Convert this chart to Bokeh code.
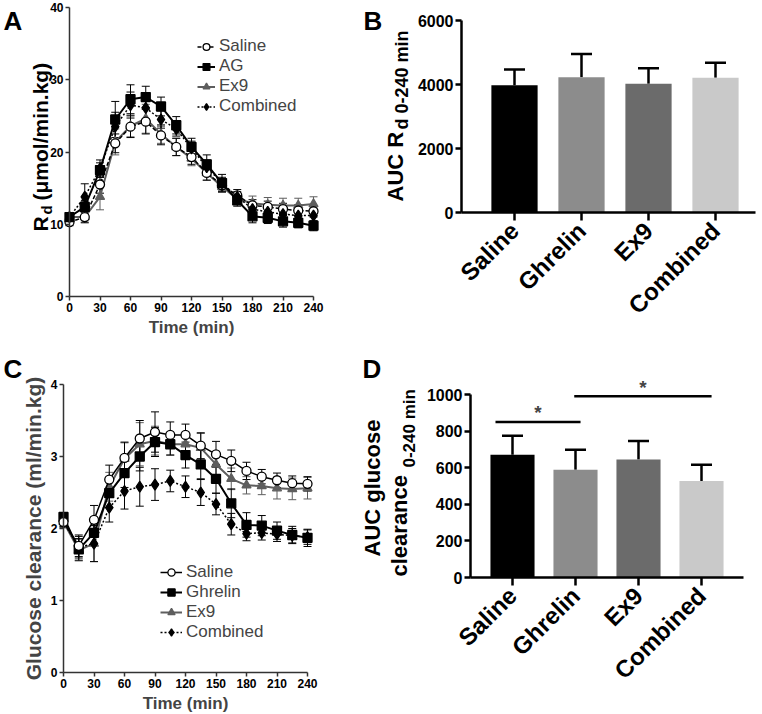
import numpy as np
from math import pi
from bokeh.plotting import figure
from bokeh.models import (ColumnDataSource, Whisker, TeeHead, Label, Legend,
                          LegendItem, FixedTicker, Range1d)
from bokeh.layouts import row, column
from bokeh.embed import file_html
from bokeh.resources import INLINE

# ---------------- data ----------------
time_min = [0, 15, 30, 45, 60, 75, 90, 105, 120, 135, 150, 165, 180, 195, 210, 225, 240]

# Panel A: Rd (umol/min.kg)
rd_saline = [10.3, 11.0, 15.5, 21.2, 23.5, 24.2, 22.3, 20.7, 19.3, 17.1, 15.4, 14.0, 12.6, 12.4, 12.1, 11.9, 11.8]
rd_saline_err = [0.5, 0.8, 1.2, 1.3, 1.5, 1.7, 1.3, 1.2, 1.0, 1.0, 0.8, 0.8, 0.8, 0.8, 0.8, 0.8, 0.8]
rd_ag = [11.0, 12.4, 17.5, 24.5, 27.3, 27.6, 26.3, 23.7, 20.7, 18.3, 15.7, 13.3, 11.1, 10.9, 10.4, 10.2, 9.8]
rd_ag_err = [0.5, 0.8, 1.0, 2.5, 2.0, 1.5, 1.3, 1.2, 1.2, 1.3, 1.2, 0.8, 0.9, 0.8, 0.8, 0.7, 0.7]
rd_ex9 = [11.0, 11.0, 13.8, 21.4, 23.6, 24.6, 22.5, 20.7, 19.1, 17.1, 15.2, 13.5, 12.9, 12.7, 12.6, 12.6, 12.8]
rd_ex9_err = [0.5, 0.7, 1.8, 1.8, 1.5, 2.0, 1.3, 1.2, 1.0, 1.0, 0.8, 0.8, 1.0, 1.0, 1.0, 1.0, 1.0]
rd_comb = [11.0, 13.8, 17.7, 23.5, 26.5, 26.1, 24.5, 23.2, 20.5, 17.9, 15.7, 13.8, 12.1, 11.7, 11.4, 11.2, 11.2]
rd_comb_err = [0.6, 1.8, 1.2, 2.0, 1.8, 1.5, 1.2, 1.0, 1.0, 1.0, 0.8, 0.7, 0.8, 0.8, 0.8, 0.8, 0.8]

# Panel C: glucose clearance (ml/min.kg)
gc_saline = [2.09, 1.76, 2.12, 2.68, 2.98, 3.25, 3.34, 3.30, 3.30, 3.15, 3.03, 2.94, 2.80, 2.72, 2.67, 2.63, 2.62]
gc_saline_err = [0.08, 0.15, 0.20, 0.20, 0.22, 0.25, 0.28, 0.18, 0.15, 0.18, 0.18, 0.15, 0.12, 0.10, 0.10, 0.10, 0.10]
gc_ghrelin = [2.16, 1.71, 1.94, 2.49, 2.77, 3.00, 3.20, 3.17, 3.02, 2.89, 2.69, 2.35, 2.05, 2.04, 1.97, 1.91, 1.87]
gc_ghrelin_err = [0.06, 0.15, 0.15, 0.20, 0.20, 0.20, 0.20, 0.15, 0.18, 0.20, 0.20, 0.20, 0.17, 0.14, 0.12, 0.12, 0.12]
gc_ex9 = [2.09, 1.70, 1.79, 2.58, 2.97, 3.17, 3.22, 3.17, 3.17, 3.12, 2.89, 2.69, 2.60, 2.59, 2.56, 2.55, 2.56]
gc_ex9_err = [0.06, 0.15, 0.25, 0.20, 0.22, 0.30, 0.20, 0.15, 0.13, 0.20, 0.18, 0.15, 0.12, 0.12, 0.15, 0.15, 0.15]
gc_comb = [2.09, 1.74, 1.79, 2.29, 2.52, 2.58, 2.61, 2.66, 2.58, 2.50, 2.34, 2.06, 1.93, 1.94, 1.92, 1.90, 1.88]
gc_comb_err = [0.06, 0.15, 0.25, 0.20, 0.25, 0.27, 0.22, 0.15, 0.15, 0.18, 0.15, 0.15, 0.10, 0.10, 0.10, 0.10, 0.10]

# Panels B and D: AUC bars
groups = ["Saline", "Ghrelin", "Ex9", "Combined"]
bar_colors = ["#000000", "#8c8c8c", "#6b6b6b", "#c9c9c9"]
auc_rd = [3980, 4230, 4020, 4210]
auc_rd_err = [490, 720, 490, 470]
auc_gc = [671, 589, 645, 527]
auc_gc_err = [104, 109, 101, 89]
sig_pairs = [(0, 1), (1, 3)]
sig_level = [850, 990]
sig_pad = [(-0.27, 0.08), (-0.02, 0.16)]

FONT = "Liberation Sans"


# ---------------- geometry helpers ----------------
class Geo:
    """Whole figure is the frame; map page pixels of the data box to data values."""
    def __init__(self, X0, Y0, W, H, L, T, R, B, dx0, dx1, dy0, dy1):
        self.X0, self.Y0, self.W, self.H = X0, Y0, W, H
        self.L, self.B = L, B
        self.dx0, self.dy0 = dx0, dy0
        self.kx = (dx1 - dx0) / (R - L)
        self.ky = (dy1 - dy0) / (B - T)
        self.xr = (dx0 - (L - X0) * self.kx, dx1 + (X0 + W - R) * self.kx)
        self.yr = (dy0 - (Y0 + H - B) * self.ky, dy1 + (T - Y0) * self.ky)

    def x(self, X):
        return self.dx0 + (X - self.L) * self.kx

    def y(self, Y):
        return self.dy0 + (self.B - Y) * self.ky


def make_fig(g):
    p = figure(width=g.W, height=g.H, x_range=Range1d(*g.xr), y_range=Range1d(*g.yr),
               output_backend="svg", toolbar_location=None, min_border=0)
    p.outline_line_color = None
    p.grid.visible = False
    p.xaxis.fixed_location = 0
    return p


def add_text(p, g, X, Y, text, size, angle=0.0, align="left", baseline="middle",
             style="bold", color="black"):
    p.add_layout(Label(x=g.x(X), y=g.y(Y), text=text, angle=angle, text_align=align,
                       text_baseline=baseline, text_font=FONT,
                       text_font_size=f"{size}px", text_font_style=style,
                       text_color=color))


def style_line_axes(p, yticks):
    for ax in (p.xaxis, p.yaxis):
        ax.axis_line_width = 1.5
        ax.axis_line_color = "#333333"
        ax.major_tick_line_color = "#333333"
        ax.major_tick_line_width = 1.5
        ax.major_tick_out = 4
        ax.major_tick_in = 0
        ax.minor_tick_line_color = None
        ax.major_label_text_font = FONT
        ax.major_label_text_font_style = "bold"
        ax.major_label_text_font_size = "12px"
        ax.major_label_text_color = "black"
        ax.major_label_standoff = 2
    p.yaxis.fixed_location = 0
    p.xaxis.ticker = FixedTicker(ticks=list(range(0, 241, 30)))
    p.xaxis.bounds = (0, 240)
    p.yaxis.ticker = FixedTicker(ticks=yticks)
    p.yaxis.bounds = (yticks[0], yticks[-1])
    p.xaxis.axis_label = "Time (min)"
    p.xaxis.axis_label_text_font = FONT
    p.xaxis.axis_label_text_font_size = "17px"
    p.xaxis.axis_label_text_font_style = "bold"
    p.xaxis.axis_label_standoff = 3


def style_bar_axes(p, g, yticks, axis_left, axis_right):
    for ax in (p.xaxis, p.yaxis):
        ax.axis_line_width = 2.5
        ax.axis_line_color = "black"
        ax.major_tick_line_color = "black"
        ax.major_tick_line_width = 2.5
        ax.major_tick_in = 0
        ax.minor_tick_line_color = None
        ax.major_label_text_font = FONT
        ax.major_label_text_font_style = "bold"
        ax.major_label_text_color = "black"
    p.yaxis.fixed_location = g.x(axis_left)
    p.yaxis.major_tick_out = 6
    p.yaxis.major_label_text_font_size = "16px"
    p.yaxis.major_label_standoff = 2
    p.yaxis.ticker = FixedTicker(ticks=yticks)
    p.yaxis.bounds = (yticks[0], yticks[-1])
    p.xaxis.bounds = (g.x(axis_left), g.x(axis_right))
    p.xaxis.major_tick_out = 8
    p.xaxis.ticker = FixedTicker(ticks=list(range(len(groups))))
    p.xaxis.major_label_overrides = {i: n for i, n in enumerate(groups)}
    p.xaxis.major_label_orientation = pi / 4
    p.xaxis.major_label_text_font_size = "24px"
    p.xaxis.major_label_standoff = 6


def add_series(p, x, y, err, color, marker, size, dash, fill, lw):
    src = ColumnDataSource(dict(x=x, y=y, lo=[a - b for a, b in zip(y, err)],
                                hi=[a + b for a, b in zip(y, err)]))
    p.add_layout(Whisker(source=src, base="x", lower="lo", upper="hi",
                         line_color=color, line_width=1,
                         lower_head=TeeHead(size=8, line_color=color, line_width=1),
                         upper_head=TeeHead(size=8, line_color=color, line_width=1)))
    lr = p.line("x", "y", source=src, line_color=color, line_width=lw, line_dash=dash)
    sr = p.scatter("x", "y", source=src, marker=marker, size=size,
                   fill_color=fill, line_color=color, line_width=1.3)
    return [lr, sr]


def add_legend(p, items, loc, item_h, glyph_w, font_px):
    lg = Legend(items=[LegendItem(label=l, renderers=r) for l, r in items],
                location=loc, border_line_color=None, background_fill_alpha=0,
                padding=0, spacing=0, margin=0, glyph_width=glyph_w,
                glyph_height=item_h, label_height=item_h, label_standoff=4,
                label_text_font=FONT, label_text_font_size=f"{font_px}px")
    p.add_layout(lg)


# ---------------- Panel A ----------------
gA = Geo(0, 0, 360, 352, 69, 7, 313, 296, 0, 240, 0, 40)
pA = make_fig(gA)
style_line_axes(pA, [0, 10, 20, 30, 40])
rA_ex9 = add_series(pA, time_min, rd_ex9, rd_ex9_err, "#5e5e5e", "triangle", 9, "solid", "#5e5e5e", 2)
rA_sal = add_series(pA, time_min, rd_saline, rd_saline_err, "black", "circle", 9, "4 2", "white", 1.5)
rA_comb = add_series(pA, time_min, rd_comb, rd_comb_err, "black", "diamond", 11, "2 2", "black", 1.5)
rA_ag = add_series(pA, time_min, rd_ag, rd_ag_err, "black", "square", 9, "solid", "black", 2)
add_legend(pA, [("Saline", rA_sal), ("AG", rA_ag), ("Ex9", rA_ex9), ("Combined", rA_comb)],
           (197, 236), 17, 18, 17)
add_text(pA, gA, 40, 231, "R", 21, angle=pi / 2)
add_text(pA, gA, 46, 214, "d", 15, angle=pi / 2)
add_text(pA, gA, 40, 200, "(μmol/min.kg)", 21, angle=pi / 2)
add_text(pA, gA, 3, 5, "A", 26, baseline="top")

# ---------------- Panel B ----------------
gB = Geo(360, 0, 400, 352, 514, 20, 581, 212, 0, 1, 0, 6000)
pB = make_fig(gB)
style_bar_axes(pB, gB, [0, 2000, 4000, 6000], 461, 755)
srcB = ColumnDataSource(dict(x=list(range(len(groups))), top=auc_rd, color=bar_colors,
                             hi=[a + b for a, b in zip(auc_rd, auc_rd_err)]))
pB.add_layout(Whisker(source=srcB, base="x", lower="top", upper="hi", line_color="black",
                      line_width=2.5, lower_head=None,
                      upper_head=TeeHead(size=21, line_color="black", line_width=2.5)))
pB.vbar(x="x", top="top", width=0.69, source=srcB, fill_color="color", line_color=None)
add_text(pB, gB, 395, 201, "AUC R", 22, angle=pi / 2)
add_text(pB, gB, 401, 129, "d", 18, angle=pi / 2)
add_text(pB, gB, 401, 113, "0-240 min", 18, angle=pi / 2)
add_text(pB, gB, 363, 5, "B", 26, baseline="top")

# ---------------- Panel C ----------------
gC = Geo(0, 352, 360, 360, 63, 384, 307, 672, 0, 240, 0, 4)
pC = make_fig(gC)
style_line_axes(pC, [0, 1, 2, 3, 4])
pC.yaxis.axis_label = "Glucose clearance (ml/min.kg)"
pC.yaxis.axis_label_text_font = FONT
pC.yaxis.axis_label_text_font_size = "21px"
pC.yaxis.axis_label_text_font_style = "bold"
pC.yaxis.axis_label_standoff = 3
rC_ex9 = add_series(pC, time_min, gc_ex9, gc_ex9_err, "#5e5e5e", "triangle", 9, "solid", "#5e5e5e", 2)
rC_comb = add_series(pC, time_min, gc_comb, gc_comb_err, "black", "diamond", 11, "2 2", "black", 1.5)
rC_gh = add_series(pC, time_min, gc_ghrelin, gc_ghrelin_err, "black", "square", 9, "solid", "black", 2)
rC_sal = add_series(pC, time_min, gc_saline, gc_saline_err, "black", "circle", 9, "solid", "white", 1.5)
add_legend(pC, [("Saline", rC_sal), ("Ghrelin", rC_gh), ("Ex9", rC_ex9), ("Combined", rC_comb)],
           (160, 70), 18, 22, 17)
add_text(pC, gC, 3, 353, "C", 26, baseline="top")

# ---------------- Panel D ----------------
gD = Geo(360, 352, 400, 360, 512, 394, 575, 577, 0, 1, 0, 1000)
pD = make_fig(gD)
style_bar_axes(pD, gD, [0, 200, 400, 600, 800, 1000], 470, 743)
srcD = ColumnDataSource(dict(x=list(range(len(groups))), top=auc_gc, color=bar_colors,
                             hi=[a + b for a, b in zip(auc_gc, auc_gc_err)]))
pD.add_layout(Whisker(source=srcD, base="x", lower="top", upper="hi", line_color="black",
                      line_width=2.5, lower_head=None,
                      upper_head=TeeHead(size=21, line_color="black", line_width=2.5)))
pD.vbar(x="x", top="top", width=0.70, source=srcD, fill_color="color", line_color=None)
sx0 = [i + pad[0] for (i, j), pad in zip(sig_pairs, sig_pad)]
sx1 = [j + pad[1] for (i, j), pad in zip(sig_pairs, sig_pad)]
pD.segment(x0=sx0, y0=sig_level, x1=sx1, y1=sig_level, line_color="black", line_width=2.5)
for a, b, lvl in zip(sx0, sx1, sig_level):
    pD.add_layout(Label(x=(a + b) / 2, y=lvl, y_offset=9, text="*", text_align="center",
                        text_baseline="alphabetic", text_font=FONT,
                        text_font_size="19px", text_font_style="bold"))
add_text(pD, gD, 372, 556, "AUC glucose", 22, angle=pi / 2)
add_text(pD, gD, 399, 576, "clearance", 22, angle=pi / 2)
add_text(pD, gD, 409, 467, "0-240 min", 17, angle=pi / 2)
add_text(pD, gD, 362, 353, "D", 26, baseline="top")

layout = row(column(pA, pC), column(pB, pD))
open("out.html", "w").write(file_html(layout, INLINE))
